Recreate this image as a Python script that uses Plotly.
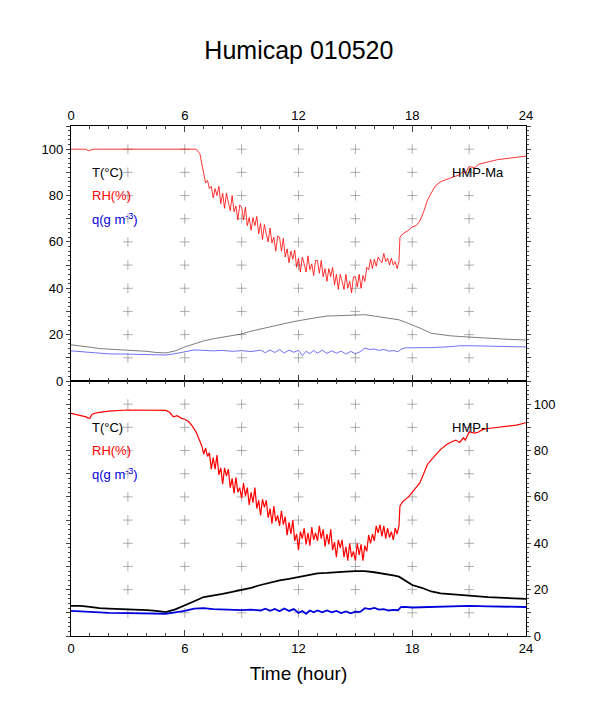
import plotly.graph_objects as go

# horas de amostragem (parte comum do RH)
horas_rh_ini = [0, 0.5, 0.8, 0.9, 1.0, 1.1, 1.2, 1.5, 2, 3, 4, 5, 5.2, 5.4, 5.6, 5.8, 6.0, 6.2, 6.4, 6.6, 6.8, 6.9]
horas_rh_meio = [7.0, 7.1, 7.2, 7.3, 7.4, 7.5, 7.6, 7.7, 7.8, 7.9,
                 8.0, 8.1, 8.2, 8.3, 8.4, 8.5, 8.6, 8.7, 8.8, 8.9,
                 9.0, 9.1, 9.2, 9.3, 9.4, 9.5, 9.6, 9.7, 9.8, 9.9,
                 10.0, 10.1, 10.2, 10.3, 10.4, 10.5, 10.6, 10.7, 10.8, 10.9,
                 11.0, 11.1, 11.2, 11.3, 11.4, 11.5, 11.6, 11.7, 11.8, 11.9,
                 12.0, 12.1, 12.2, 12.3, 12.4, 12.5, 12.6, 12.7, 12.8, 12.9,
                 13.0, 13.1, 13.2, 13.3, 13.4, 13.5, 13.6, 13.7, 13.8, 13.9,
                 14.0, 14.1, 14.2, 14.3, 14.4, 14.5, 14.6, 14.7, 14.8, 14.9,
                 15.0, 15.1, 15.2, 15.3, 15.4, 15.5, 15.6, 15.7, 15.8, 15.9,
                 16.0, 16.1, 16.2, 16.3, 16.4, 16.5, 16.6, 16.7, 16.8, 16.9,
                 17.0, 17.1, 17.2, 17.3]
horas_rh_fim = [17.35, 17.5, 17.8, 18.0, 18.2, 18.4, 18.6, 18.8, 19.0, 19.2, 19.5, 19.8, 20.0,
                20.3, 20.5, 20.7, 20.8, 21.0, 21.3, 21.5, 21.7, 22.0, 22.5, 23.0, 23.5, 24.0]
horas_rh = horas_rh_ini + horas_rh_meio + horas_rh_fim

# HMP-Ma (painel de cima)
rh_ma = ([100, 100, 100, 99.3, 99.6, 100, 100, 100, 100, 100, 100, 100, 100, 100, 100, 100, 100, 100, 100, 100, 98, 93]
         + [89.5, 85.5, 86.5, 83, 84, 79, 83, 80, 84, 76.5,
            81, 74.5, 81, 77, 73.5, 80, 73, 75.5, 69.5, 76,
            75, 69.5, 75, 67, 70.5, 65, 70.5, 67, 71, 63.5,
            68, 61, 67.5, 63.5, 60, 66, 59.5, 62, 56, 62.5,
            62, 56, 61.5, 53.5, 57, 51, 56, 52.5, 56.5, 49,
            53, 47, 53.5, 50.5, 47, 54, 48, 50.5, 45.5, 52,
            52, 46.5, 52, 45, 48.5, 43, 48.5, 45, 49, 41.5,
            46, 39.5, 46, 43, 39.5, 46, 40, 43, 38, 45,
            45, 40.5, 46, 40, 45.5, 43, 49, 48, 52.5, 48.5,
            52.5, 49.5, 53.5, 52, 51, 55, 51.5, 53, 50, 53,
            50, 51.5, 48.5, 51.5]
         + [62, 63.5, 65, 66.5, 67, 69, 73, 78, 81, 84, 86, 87, 87.5,
            88.5, 89, 90.5, 89.5, 92.5, 92, 93.5, 94, 94.5, 95.5, 96, 96.5, 97])

horas_t = [0, 0.5, 1, 1.5, 2, 3, 4, 4.5, 5, 5.5, 6, 6.5, 7, 7.5, 8, 8.5, 9, 9.5, 10, 10.5, 11, 11.5,
           12, 12.5, 13, 13.5, 14, 14.5, 15, 15.5, 16, 16.5, 17, 17.3, 17.6, 18, 18.5, 19, 19.5,
           20, 20.5, 21, 22, 23, 24]
t_ma = [15.6, 15.2, 14.6, 14.0, 13.8, 13.4, 12.8, 12.3, 12.1, 13.0, 14.7, 16.0, 17.3, 18.2, 19.0, 19.6,
        20.3, 21.5, 22.5, 23.4, 24.2, 25.2, 26.0, 26.8, 27.4, 28.0, 28.2, 28.5, 28.7, 28.6, 28.0, 27.4,
        26.8, 26.4, 25.5, 24.2, 22.5, 20.6, 20.0, 19.5, 19.2, 18.9, 18.3, 18.0, 17.7]

horas_q = [0, 1, 2, 3, 4, 5, 5.5, 6, 6.5, 7, 7.5, 8, 8.5, 9, 9.5, 10,
           10.25, 10.5, 10.75, 11, 11.25, 11.5, 11.75, 12, 12.2, 12.4, 12.6, 12.8, 13, 13.25, 13.5,
           13.75, 14, 14.25, 14.5, 14.75, 15, 15.25, 15.5, 15.75, 16, 16.25, 16.5, 16.75, 17, 17.25,
           17.4, 17.6, 18, 19, 20, 20.5, 21, 22, 23, 24]
q_ma = [13, 12.4, 11.7, 11.6, 11.4, 11.2, 11.8, 12.6, 13.4, 13.2, 13, 13.2, 12.8, 13.1, 12.7, 13.3,
        12.2, 13.4, 12.3, 13.5, 12.1, 13.3, 12.4, 13.2, 11, 12.8, 11.8, 13.2, 12, 13.3, 11.9,
        13, 12, 12.9, 11.6, 12.8, 11.8, 12.6, 14.2, 13.6, 13.8, 13.2, 13.6, 12.9, 13.1, 12.7,
        13.6, 14.3, 14.3, 14.4, 14.8, 15.2, 15.2, 15, 14.8, 14.7]

# HMP-I (painel de baixo)
rh_i = ([96, 95.2, 94.5, 94, 94, 95.5, 96, 96.5, 97, 97.5, 97.5, 97.3, 96.5, 94.5, 95, 94, 93.5, 92.5, 90.5, 88, 84, 82]
        + [78.5, 81, 77.5, 79, 72, 77, 72, 78, 69.5, 72.5,
           65.5, 72.5, 69, 72, 64, 68, 61.5, 68.5, 62, 64,
           59.5, 66, 60.5, 64, 56.5, 62, 57.5, 64, 55, 58.5,
           52, 59, 55.5, 58.5, 51, 55, 48.5, 56, 49.5, 52,
           47.5, 54, 48, 51.5, 43.5, 49, 44, 50, 41, 44,
           37, 45, 42, 46.5, 39.5, 44.5, 39, 47, 41.5, 44.5,
           41, 47.5, 42, 46, 38.5, 44, 39.5, 46, 37, 40.5,
           34, 41.5, 38, 41.5, 34, 38.5, 32.5, 40, 34, 36.5,
           32.5, 40, 35, 39.5, 32.5, 39, 36.5, 43.5, 40, 44,
           41, 47.5, 44.5, 48, 43, 47.5, 42, 46.5, 42.5, 45,
           41.5, 46.5, 44, 47.5]
        + [56, 58, 60, 62, 64, 66, 70, 74, 76, 78, 80.5, 82.5, 83.5,
           84.5, 83.5, 85.5, 84.5, 88, 87.5, 88, 89, 89.5, 90, 90.5, 91, 92])

t_i = [13.0, 13.0, 12.6, 12.0, 11.8, 11.6, 11.2, 10.8, 10.3, 11.5, 13.4, 15.0, 16.8, 17.4, 18.2, 19.0,
       19.8, 20.8, 22.0, 23.0, 24.0, 24.6, 25.4, 26.2, 27.0, 27.2, 27.6, 27.8, 28.0, 28.0, 27.5, 27.0,
       26.2, 25.6, 24.0, 22.0, 20.8, 19.2, 18.4, 18.0, 17.6, 17.4, 16.8, 16.4, 16.0]

q_i = [10.8, 10.3, 10, 9.9, 9.9, 9.6, 10.2, 10.8, 11.8, 12, 11.6, 11.4, 11.3, 11.2, 11.4, 11,
       11.8, 10.9, 11.7, 10.7, 11.9, 10.8, 11.6, 10, 10.8, 9.6, 11, 10.2, 11, 10.2, 11,
       10.2, 10.8, 9.9, 10.6, 9.8, 10.5, 10.4, 12, 11.6, 12.1, 11.4, 11.6, 11, 11.3, 11.1,
       12.5, 12.6, 12.3, 12.6, 12.8, 13, 13, 12.8, 12.7, 12.5]

# marcas "+" de grade
grade_horas = [3, 6, 9, 12, 15, 18, 21]
grade_niveis = [10, 20, 30, 40, 50, 60, 70, 80, 90, 100]

fonte = "Liberation Sans, Arial, sans-serif"
vermelho = "#ff0000"
azul = "#0000dd"

fig = go.Figure()

# cruzes de grade nos dois paineis
gx = [h for h in grade_horas for n in grade_niveis]
gy = [n for h in grade_horas for n in grade_niveis]
for ya in ["y", "y2"]:
    fig.add_trace(go.Scatter(x=gx, y=gy, mode="markers", xaxis="x" if ya == "y" else "x2", yaxis=ya,
                             marker=dict(symbol="cross-thin", size=7, line=dict(color="#8c8c8c", width=0.7)),
                             hoverinfo="skip", showlegend=False))

# painel de cima (linhas finas)
fig.add_trace(go.Scatter(x=horas_t, y=t_ma, mode="lines", line=dict(color="#444444", width=0.7), xaxis="x", yaxis="y", showlegend=False))
fig.add_trace(go.Scatter(x=horas_q, y=q_ma, mode="lines", line=dict(color="#3333ee", width=0.7), xaxis="x", yaxis="y", showlegend=False))
fig.add_trace(go.Scatter(x=horas_rh, y=rh_ma, mode="lines", line=dict(color=vermelho, width=0.8), xaxis="x", yaxis="y", showlegend=False))

# painel de baixo (linhas grossas)
fig.add_trace(go.Scatter(x=horas_t, y=t_i, mode="lines", line=dict(color="black", width=1.8), xaxis="x2", yaxis="y2", showlegend=False))
fig.add_trace(go.Scatter(x=horas_q, y=q_i, mode="lines", line=dict(color=azul, width=1.8), xaxis="x2", yaxis="y2", showlegend=False))
fig.add_trace(go.Scatter(x=horas_rh, y=rh_i, mode="lines", line=dict(color=vermelho, width=1.2), xaxis="x2", yaxis="y2", showlegend=False))

# textos dentro dos paineis
for xr, yr, nome in [("x", "y", "HMP-Ma"), ("x2", "y2", "HMP-I")]:
    fig.add_annotation(x=1.0, y=90, xref=xr, yref=yr, text="T(°C)", showarrow=False, xanchor="left", font=dict(color="black", size=13))
    fig.add_annotation(x=1.0, y=80, xref=xr, yref=yr, text="RH(%)", showarrow=False, xanchor="left", font=dict(color=vermelho, size=13))
    fig.add_annotation(x=1.0, y=70, xref=xr, yref=yr, text="q(g m<sup>-3</sup>)", showarrow=False, xanchor="left", font=dict(color=azul, size=13))
    fig.add_annotation(x=20.0, y=90, xref=xr, yref=yr, text=nome, showarrow=False, xanchor="left", font=dict(color="black", size=13))

eixo_x = dict(range=[0, 24], tickvals=[0, 6, 12, 18, 24], ticks="inside", ticklen=6, tickwidth=1,
              minor=dict(dtick=1, ticks="inside", ticklen=3), showline=True, linecolor="black", linewidth=1.2,
              mirror="ticks", showgrid=False, zeroline=False, tickfont=dict(size=13), automargin=False)
niveis = [0, 10, 20, 30, 40, 50, 60, 70, 80, 90, 100, 110]
rotulos = ["0", "", "20", "", "40", "", "60", "", "80", "", "100", ""]
eixo_y = dict(range=[0, 110], tickvals=niveis, ticktext=rotulos, ticks="outside", ticklen=4, tickwidth=1,
              minor=dict(dtick=2, ticks="outside", ticklen=2), showline=True, linecolor="black", linewidth=1.2,
              mirror="ticks", showgrid=False, zeroline=False, tickfont=dict(size=13), automargin=False)

# a pagina tem 8px de margem no body, entao a figura fica um pouco menor
fig.update_layout(
    width=590, height=700,
    margin=dict(l=63, r=72, t=118, b=72),
    plot_bgcolor="white", paper_bgcolor="white",
    font=dict(family=fonte, color="black"),
    title=dict(text="Humicap 010520", x=0.493, xanchor="center", y=0.94, yanchor="middle", font=dict(size=25)),
    xaxis=dict(eixo_x, anchor="y", side="top"),
    xaxis2=dict(eixo_x, anchor="y2", side="bottom",
                title=dict(text="Time (hour)", font=dict(size=19), standoff=11)),
    yaxis=dict(eixo_y, domain=[0.5, 1], anchor="x", side="left"),
    yaxis2=dict(eixo_y, domain=[0, 0.5], anchor="x2", side="right"),
)

fig.write_html("out.html")
